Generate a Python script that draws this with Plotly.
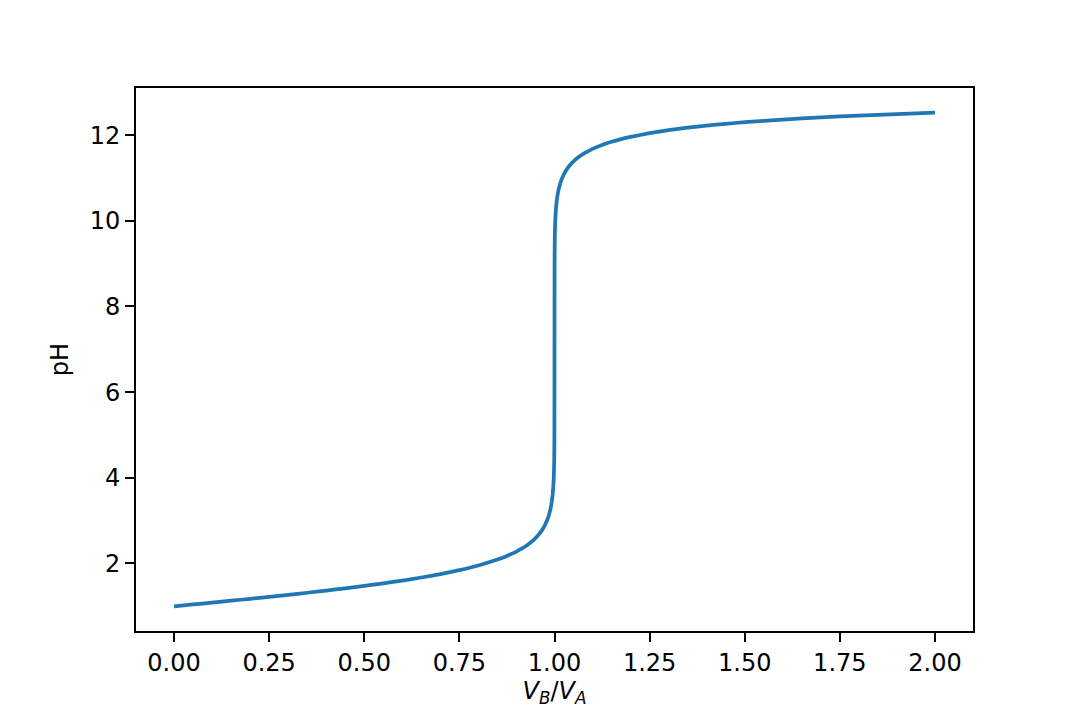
import plotly.graph_objects as go

# Titration curve
ratio_vb_va = [0.00, 0.05, 0.10, 0.15, 0.20, 0.25, 0.30, 0.35, 0.40, 0.45, 0.50,
               0.55, 0.60, 0.65, 0.70, 0.75, 0.80, 0.85, 0.875, 0.89, 0.90, 0.91,
               0.925, 0.94, 0.95, 0.96, 0.97, 0.975, 0.98, 0.985, 0.988, 0.99,
               0.993, 0.995, 0.9965, 0.997, 0.998, 0.9985, 0.999, 0.9992, 0.9995,
               0.9998, 1.0, 1.0002, 1.0005, 1.0008, 1.001, 1.0015, 1.002, 1.003,
               1.0035, 1.005, 1.007, 1.01, 1.012, 1.015, 1.02, 1.025, 1.03, 1.035,
               1.04, 1.045, 1.05, 1.06, 1.07, 1.08, 1.09, 1.10, 1.11, 1.125, 1.15,
               1.175, 1.20, 1.25, 1.30, 1.35, 1.40, 1.45, 1.50, 1.60, 1.70, 1.80,
               1.90, 2.00]
ph_values = [1.000, 1.043, 1.087, 1.131, 1.176, 1.222, 1.269, 1.317, 1.368, 1.421, 1.477,
             1.537, 1.602, 1.673, 1.753, 1.845, 1.954, 2.091, 2.176, 2.235, 2.279, 2.327,
             2.409, 2.510, 2.591, 2.690, 2.817, 2.898, 2.996, 3.122, 3.219, 3.299,
             3.454, 3.600, 3.756, 3.823, 4.000, 4.124, 4.300, 4.400, 4.600,
             5.000, 7.000, 9.000, 9.400, 9.600, 9.700, 9.875, 10.000, 10.176,
             10.242, 10.397, 10.543, 10.697, 10.776, 10.872, 10.996, 11.091, 11.170, 11.236,
             11.292, 11.342, 11.387, 11.464, 11.529, 11.585, 11.634, 11.678, 11.717, 11.770, 11.844,
             11.906, 11.959, 12.046, 12.115, 12.173, 12.222, 12.264, 12.301, 12.363, 12.414, 12.456,
             12.492, 12.523]

x_ticks = [0.00, 0.25, 0.50, 0.75, 1.00, 1.25, 1.50, 1.75, 2.00]
x_tick_labels = ["0.00", "0.25", "0.50", "0.75", "1.00", "1.25", "1.50", "1.75", "2.00"]
y_ticks = [2, 4, 6, 8, 10, 12]

fig = go.Figure()
fig.add_trace(go.Scatter(
    x=ratio_vb_va, y=ph_values, mode="lines",
    line=dict(color="#1f77b4", width=3.75, shape="spline", smoothing=0.4),
    showlegend=False,
))

font = dict(family="DejaVu Sans", size=24, color="black")
axis_common = dict(
    showline=True, linecolor="black", linewidth=2, mirror=True,
    ticks="outside", ticklen=9, tickwidth=2, tickcolor="black",
    showgrid=False, zeroline=False, tickfont=font,
)

fig.update_layout(
    width=1080, height=720,
    margin=dict(l=128, r=115, t=80, b=97),
    paper_bgcolor="white", plot_bgcolor="white",
    font=font,
    xaxis=dict(range=[-0.1, 2.1], tickvals=x_ticks, ticktext=x_tick_labels,
               title=dict(text="<i>V</i><sub><i>B</i></sub>/<i>V</i><sub><i>A</i></sub>",
                          font=font, standoff=6),
               **axis_common),
    yaxis=dict(range=[0.424, 13.1], tickvals=y_ticks,
               title=dict(text="pH", font=font, standoff=14),
               **axis_common),
)

fig.write_html("out.html")
